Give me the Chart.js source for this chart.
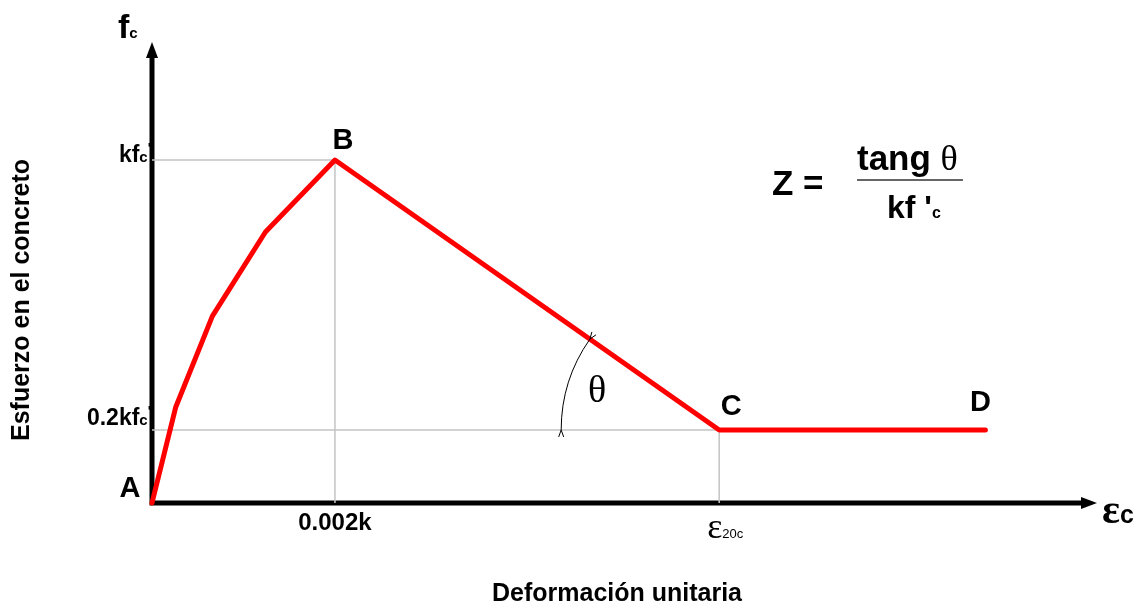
<!DOCTYPE html>
<html>
<head>
<meta charset="utf-8">
<script src="https://cdn.jsdelivr.net/npm/chart.js@4"></script>
<style>
  html, body { margin: 0; padding: 0; background: #fff; }
  canvas { display: block; }
</style>
</head>
<body>
<canvas id="chart" width="1138" height="609"></canvas>
<script>
// curve points (strain in units of 0.001k, stress in units of kf'c)
const strain = [0, 0.26, 0.66, 1.24, 2, 6.2, 9.11];
const stress = [0, 0.28, 0.545, 0.79, 1, 0.213, 0.213];
const pointLabels = ['A', '', '', '', 'B', 'C', 'D'];

// reference lines B and C drop to the axes
const guideB = [{ x: 0, y: 1 }, { x: 2, y: 1 }, { x: 2, y: 0 }];
const guideC = [{ x: 0, y: 0.213 }, { x: 6.2, y: 0.213 }, { x: 6.2, y: 0 }];

const xMax = 10.33;
const yMax = 1.344;

const SANS = '"Liberation Sans", Arial, sans-serif';
const SERIF = '"Liberation Serif", "Times New Roman", serif';

// draws a run of text pieces with different fonts on one baseline
function rich(ctx, parts, x, y, align) {
    let total = 0;
    parts.forEach(p => { ctx.font = p.font; total += ctx.measureText(p.t).width; });
    let cx = x;
    if (align === 'right') cx = x - total;
    if (align === 'center') cx = x - total / 2;
    ctx.textAlign = 'left';
    ctx.textBaseline = 'alphabetic';
    parts.forEach(p => {
        ctx.font = p.font;
        ctx.fillText(p.t, cx, y + (p.dy || 0));
        cx += ctx.measureText(p.t).width;
    });
}

const axesPlugin = {
    id: 'axesArrows',
    beforeDatasetsDraw(chart) {
        const ctx = chart.ctx;
        const x0 = chart.scales.x.getPixelForValue(0);
        const y0 = chart.scales.y.getPixelForValue(0);
        const xEnd = chart.scales.x.getPixelForValue(xMax);
        const yEnd = chart.scales.y.getPixelForValue(yMax);
        ctx.save();
        ctx.strokeStyle = '#000';
        ctx.fillStyle = '#000';
        ctx.lineWidth = 5;
        ctx.beginPath();
        ctx.moveTo(x0, y0 + 2.5);
        ctx.lineTo(x0, yEnd + 14);
        ctx.moveTo(x0 - 2.5, y0);
        ctx.lineTo(xEnd - 14, y0);
        ctx.stroke();
        // arrow heads
        ctx.beginPath();
        ctx.moveTo(x0, yEnd);
        ctx.lineTo(x0 - 6, yEnd + 16);
        ctx.lineTo(x0 + 6, yEnd + 16);
        ctx.closePath();
        ctx.fill();
        ctx.beginPath();
        ctx.moveTo(xEnd, y0);
        ctx.lineTo(xEnd - 16, y0 - 6);
        ctx.lineTo(xEnd - 16, y0 + 6);
        ctx.closePath();
        ctx.fill();
        ctx.restore();
    },
    afterDatasetsDraw(chart) {
        const ctx = chart.ctx;
        const xs = chart.scales.x;
        const ys = chart.scales.y;
        const x0 = xs.getPixelForValue(0);
        const y0 = ys.getPixelForValue(0);
        ctx.save();
        ctx.fillStyle = '#000';

        // point letters
        const offs = [[-22, -14], null, null, null, [8, -19], [12, -23], [-5, -27]];
        ctx.font = 'bold 29px ' + SANS;
        ctx.textAlign = 'center';
        ctx.textBaseline = 'middle';
        pointLabels.forEach((l, i) => {
            if (!l) return;
            ctx.fillText(l, xs.getPixelForValue(strain[i]) + offs[i][0], ys.getPixelForValue(stress[i]) + offs[i][1]);
        });

        // axis end labels
        rich(ctx, [
            { t: 'f', font: 'bold 34px ' + SANS },
            { t: 'c', font: 'bold 15px ' + SANS }
        ], 118, 38, 'left');
        rich(ctx, [
            { t: 'ε', font: 'bold 42px ' + SERIF },
            { t: 'c', font: 'bold 25px ' + SANS }
        ], 1102, 523, 'left');

        // y tick labels
        const yB = ys.getPixelForValue(stress[4]);
        const yC = ys.getPixelForValue(stress[5]);
        rich(ctx, [
            { t: 'kf', font: 'bold 23px ' + SANS },
            { t: 'c', font: 'bold 15px ' + SANS },
            { t: "'", font: 'bold 14px ' + SANS, dy: -9 }
        ], x0 - 1, yB + 2, 'right');
        rich(ctx, [
            { t: '0.2kf', font: 'bold 23px ' + SANS },
            { t: 'c', font: 'bold 15px ' + SANS },
            { t: "'", font: 'bold 14px ' + SANS, dy: -9 }
        ], x0 - 1, yC - 5, 'right');

        // x tick labels
        rich(ctx, [{ t: '0.002k', font: 'bold 24px ' + SANS }], xs.getPixelForValue(strain[4]), y0 + 27, 'center');
        rich(ctx, [
            { t: 'ε', font: '36px ' + SERIF },
            { t: '20c', font: '13px ' + SANS }
        ], xs.getPixelForValue(strain[5]) + 6, y0 + 35, 'center');

        // axis titles
        ctx.font = 'bold 25px ' + SANS;
        ctx.textAlign = 'center';
        ctx.textBaseline = 'middle';
        ctx.fillText('Deformación unitaria', 617, 594);
        ctx.save();
        ctx.translate(22, 300);
        ctx.rotate(-Math.PI / 2);
        ctx.fillText('Esfuerzo en el concreto', 0, 0);
        ctx.restore();

        // angle theta between BC and the 0.2kf'c line
        const cx = xs.getPixelForValue(strain[5]);
        const cy = yC;
        const bx = xs.getPixelForValue(strain[4]);
        const slope = Math.atan2(cy - yB, cx - bx);
        const r = 158;
        const a0 = Math.PI, a1 = Math.PI + slope;
        ctx.strokeStyle = '#000';
        ctx.lineWidth = 1;
        ctx.beginPath();
        ctx.arc(cx, cy, r, a0, a1);
        ctx.stroke();
        [[a0, 1], [a1, -1]].forEach(([a, dir]) => {
            const px = cx + r * Math.cos(a), py = cy + r * Math.sin(a);
            const tx = -Math.sin(a) * dir, ty = Math.cos(a) * dir;
            ctx.beginPath();
            ctx.moveTo(px, py);
            ctx.lineTo(px - tx * 7 - ty * 2.5, py - ty * 7 + tx * 2.5);
            ctx.moveTo(px, py);
            ctx.lineTo(px - tx * 7 + ty * 2.5, py - ty * 7 - tx * 2.5);
            ctx.stroke();
        });
        ctx.font = '38px ' + SERIF;
        ctx.textAlign = 'center';
        ctx.textBaseline = 'alphabetic';
        ctx.fillText('θ', 597, 402);

        // formula Z = tang θ / kf'c
        rich(ctx, [{ t: 'Z =', font: 'bold 35px ' + SANS }], 772, 195, 'left');
        rich(ctx, [
            { t: 'tang ', font: 'bold 35px ' + SANS },
            { t: 'θ', font: '36px ' + SERIF }
        ], 857, 170, 'left');
        ctx.strokeStyle = '#333';
        ctx.lineWidth = 1.5;
        ctx.beginPath();
        ctx.moveTo(857, 180);
        ctx.lineTo(963, 180);
        ctx.stroke();
        rich(ctx, [
            { t: 'kf \'', font: 'bold 32px ' + SANS },
            { t: 'c', font: 'bold 16px ' + SANS }
        ], 887, 218, 'left');

        ctx.restore();
    }
};

new Chart(document.getElementById('chart'), {
    type: 'line',
    data: {
        datasets: [
            {
                label: 'Esfuerzo',
                data: strain.map((v, i) => ({ x: v, y: stress[i] })),
                borderColor: '#ff0000',
                borderWidth: 5,
                borderCapStyle: 'round',
                borderJoinStyle: 'round',
                pointRadius: 0,
                fill: false,
                tension: 0,
                clip: false,
                order: 0,
            },
            {
                label: 'B',
                data: guideB,
                borderColor: '#c4c4c4',
                borderWidth: 1.5,
                pointRadius: 0,
                clip: false,
                order: 1,
            },
            {
                label: 'C',
                data: guideC,
                borderColor: '#c4c4c4',
                borderWidth: 1.5,
                pointRadius: 0,
                clip: false,
                order: 1,
            },
        ],
    },
    options: {
        responsive: false,
        animation: false,
        layout: { padding: { left: 152, right: 41, top: 42, bottom: 106 } },
        scales: {
            x: { type: 'linear', min: 0, max: xMax, display: false },
            y: { type: 'linear', min: 0, max: yMax, display: false },
        },
        plugins: {
            legend: { display: false },
            tooltip: { enabled: false },
        },
    },
    plugins: [axesPlugin],
});
</script>
</body>
</html>
